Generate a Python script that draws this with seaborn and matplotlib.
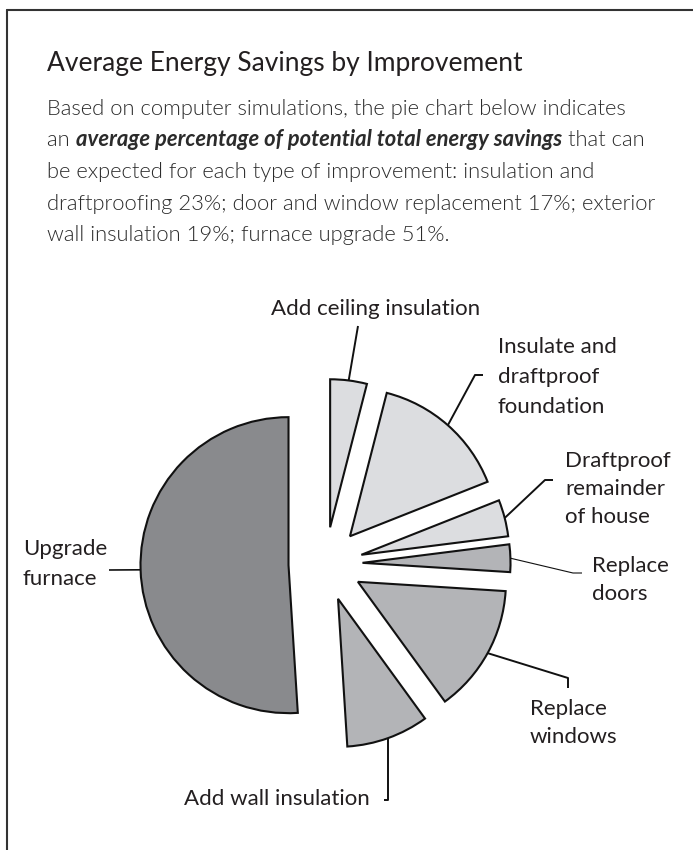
import numpy as np
import matplotlib
matplotlib.use("Agg")
import matplotlib.pyplot as plt
from matplotlib.lines import Line2D
import seaborn as sns

# ---- data ----
categories = ["Add ceiling insulation", "Insulate and draftproof foundation",
              "Draftproof remainder of house", "Replace doors", "Replace windows",
              "Add wall insulation", "Upgrade furnace"]
savings_pct = [4, 15, 4, 3, 14, 9, 51]
label_lines = [["Add ceiling insulation"],
               ["Insulate and", "draftproof", "foundation"],
               ["Draftproof", "remainder", "of house"],
               ["Replace", "doors"],
               ["Replace", "windows"],
               ["Add wall insulation"],
               ["Upgrade", "furnace"]]
title = "Average Energy Savings by Improvement"
body_lines = [
    [("Based on computer simulations, the pie chart below indicates", "n")],
    [("an ", "n"), ("average percentage of potential total energy savings", "bi"), (" that can", "n")],
    [("be expected for each type of improvement: insulation and", "n")],
    [("draftproofing 23%; door and window replacement 17%; exterior", "n")],
    [("wall insulation 19%; furnace upgrade 51%.", "n")],
]

# ---- style ----
sns.set_theme(style="white")
plt.rcParams["font.family"] = ["Lato", "DejaVu Sans"]
TXT = "#231f20"
LIGHT, MID, DARK = "#dcdde0", "#b3b4b7", "#898a8d"
colors = [LIGHT, LIGHT, LIGHT, MID, MID, MID, DARK]
EXPL = 0.25

W, H = 693, 850
fig = plt.figure(figsize=(W / 100, H / 100), dpi=100)
ax = fig.add_axes([0, 0, 1, 1])
R = 148.0
CX, CY = 325.5, 564.0


def P(x, y):
    return ((x - CX) / R, (CY - y) / R)


wedges, _ = ax.pie(savings_pct, startangle=90, counterclock=False, colors=colors,
                   explode=[EXPL] * len(savings_pct), radius=1.0,
                   wedgeprops=dict(edgecolor="#111111", linewidth=1.5),
                   frame=False)
ax.set_xlim(-CX / R, (W - CX) / R)
ax.set_ylim(-(H - CY) / R, CY / R)
ax.set_aspect("auto")
ax.axis("off")

# anchor points on wedge arcs (bisector)
anchors = []
for w in wedges:
    mid = np.deg2rad((w.theta1 + w.theta2) / 2)
    k = 1 + EXPL
    anchors.append((k * np.cos(mid), k * np.sin(mid)))

# leader elbows (pixel layout)
leaders = [
    [P(358, 326)],
    [P(475, 375), P(483, 375)],
    [P(545, 480), P(553, 480)],
    [P(573, 573), P(582, 573)],
    [P(568, 678), P(568, 688)],
    [None, P(384, 800)],
    [P(109, 570)],
]
lws = [1.4, 1.4, 1.4, 0.8, 1.4, 1.4, 1.2]
for i, (a, pts) in enumerate(zip(anchors, leaders)):
    if i == 5:
        elbow = (a[0], P(0, 800)[1])
        pts = [elbow, pts[1]]
    xs = [a[0]] + [p[0] for p in pts]
    ys = [a[1]] + [p[1] for p in pts]
    ax.plot(xs, ys, color="#111111", lw=lws[i], solid_capstyle="butt", zorder=3)

# labels (pixel layout: x, first baseline, spacing, ha)
label_pos = [
    (376, 315, 0, "center"),
    (498, 353, 30, "left"),
    (565, 467, 28, "left"),
    (592, 572, 28, "left"),
    (530, 715, 28, "left"),
    (370, 805, 0, "right"),
    (23, 555, 30, "left"),
]
LFS = 16
for lines, (x, y0, dy, ha) in zip(label_lines, label_pos):
    for j, s in enumerate(lines):
        ax.text(*P(x, y0 + j * dy), s, ha=ha, va="baseline", fontsize=LFS, color=TXT)

# title and body
ax.text(*P(47, 71), title, ha="left", va="baseline", fontsize=19, color=TXT)
renderer = fig.canvas.get_renderer()
BFS = 15.8
for i, pieces in enumerate(body_lines):
    x = 47
    y = 115 + i * 31.5
    for s, sty in pieces:
        kw = dict(fontweight=300, fontstyle="normal")
        if sty == "bi":
            kw = dict(fontweight="bold", fontstyle="italic")
        t = ax.text(*P(x, y), s, ha="left", va="baseline", fontsize=BFS,
                    color="#2b2b2b", **kw)
        bb = t.get_window_extent(renderer)
        x = x + bb.width

# frame lines (top and left)
fig.add_artist(Line2D([6.7 / W, 1.0], [1 - 10 / H, 1 - 10 / H], transform=fig.transFigure,
                      color="#333333", lw=1.5))
fig.add_artist(Line2D([6.7 / W, 6.7 / W], [1 - 10 / H, 0.0], transform=fig.transFigure,
                      color="#333333", lw=1.5))

fig.savefig("out.png", dpi=100, facecolor="white")
